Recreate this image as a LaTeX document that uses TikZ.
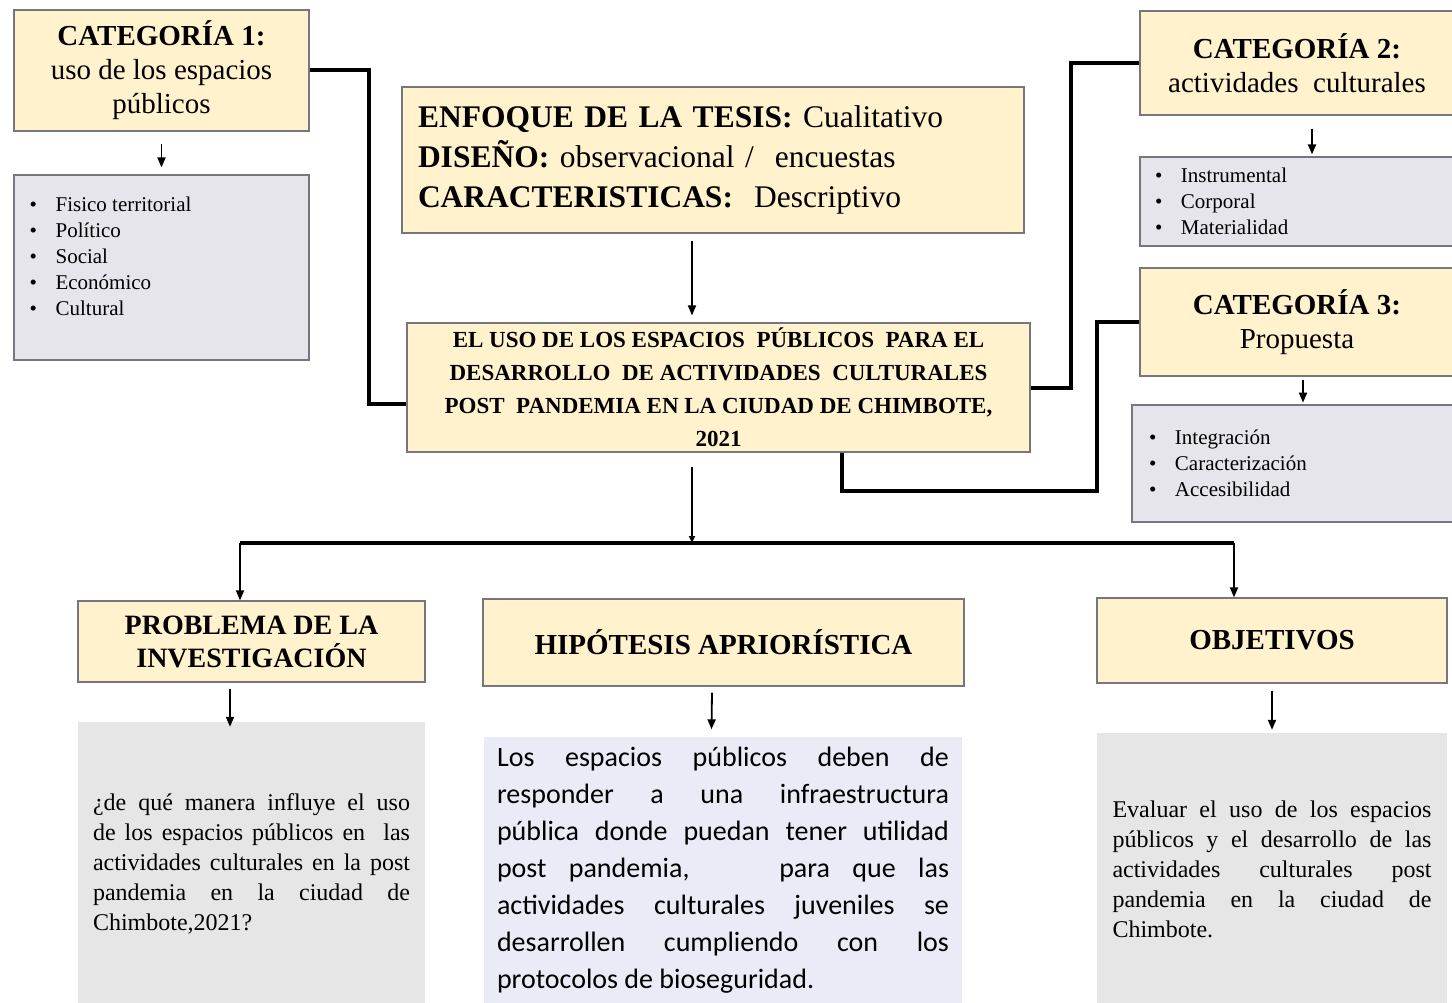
\documentclass[tikz,border=0pt]{standalone}
\usepackage{fontspec}
\setmainfont{Liberation Serif}
\newfontfamily\bodysans{Carlito}
\usepackage{tikz}
\usetikzlibrary{arrows.meta, positioning, calc}
\usepackage{xcolor}

\definecolor{cream}{RGB}{255,242,204}
\definecolor{listgray}{RGB}{229,229,235}
\definecolor{panelgray}{RGB}{230,230,230}
\definecolor{panelblue}{RGB}{233,236,246}
\definecolor{edgegray}{RGB}{118,118,126}
\newcommand{\bul}{\makebox[26pt][l]{\textbullet}}

\begin{document}
\begin{tikzpicture}[x=1pt, y=-1pt,
    titlebox/.style={draw=edgegray, line width=1.2pt, fill=cream, align=center, inner sep=0pt},
    listbox/.style={draw=edgegray, line width=1.2pt, fill=listgray, inner sep=0pt, align=left, font=\fontsize{21}{26}\selectfont},
    panel/.style={inner sep=0pt, align=justify},
    link/.style={line width=4pt},
    arr/.style={line width=1.8pt, -{Triangle[length=10pt,width=8pt]}}]
    \useasboundingbox (0,0) rectangle (1452,1003);

    % Category 1
    \node[titlebox, minimum width=295pt, minimum height=121pt, font=\fontsize{29}{34}\selectfont] (cat1) at (161.5,70.5)
        {\textbf{CATEGORÍA 1:}\\uso de los espacios\\públicos};
    \node[listbox, minimum width=295pt, minimum height=185pt] (cat1list) at (161.5,267.5) {};
    \node[anchor=west, inner sep=0pt, align=left, font=\fontsize{21}{26}\selectfont] (cat1items) at ($(cat1list.west)+(16,-11.5)$)
        {\bul Fisico territorial\\\bul Político\\\bul Social\\\bul Económico\\\bul Cultural};

    % Thesis approach
    \node[titlebox, align=left, minimum height=146pt, text width=590pt, inner xsep=16pt, font=\fontsize{31.5}{40}\selectfont] (enfoque) at (713,160)
        {\textbf{ENFOQUE DE LA TESIS:} Cualitativo\\\textbf{DISEÑO:} observacional /\ \ encuestas\\\textbf{CARACTERISTICAS:}\ \ Descriptivo};

    % Main title
    \node[titlebox, minimum width=623pt, minimum height=129pt, font=\bfseries\fontsize{23}{33}\selectfont] (main) at (718.5,387.5)
        {EL USO DE LOS ESPACIOS\ \ PÚBLICOS\ \ PARA EL\\DESARROLLO\ \ DE ACTIVIDADES\ \ CULTURALES\\POST\ \ PANDEMIA EN LA CIUDAD DE CHIMBOTE,\\2021};

    % Category 2
    \node[titlebox, minimum width=314pt, minimum height=104pt, font=\fontsize{29}{34}\selectfont] (cat2) at (1297,63)
        {\textbf{CATEGORÍA 2:}\\actividades\ \ culturales};
    \node[listbox, minimum height=89pt, text width=284pt, inner xsep=15pt] (cat2list) at (1297,201.5)
        {\bul Instrumental\\\bul Corporal\\\bul Materialidad};

    % Category 3
    \node[titlebox, minimum width=314pt, minimum height=108pt, font=\fontsize{29}{34}\selectfont] (cat3) at (1297,322)
        {\textbf{CATEGORÍA 3:}\\Propuesta};
    \node[listbox, minimum height=117pt, text width=288pt, inner xsep=17pt] (cat3list) at (1293,463.5)
        {\bul Integración\\\bul Caracterización\\\bul Accesibilidad};

    % Lower row
    \node[titlebox, minimum width=347pt, minimum height=81pt, font=\bfseries\fontsize{28}{33}\selectfont] (prob) at (251.5,641.5)
        {PROBLEMA DE LA\\INVESTIGACIÓN};
    \node[titlebox, minimum width=481pt, minimum height=87pt, font=\bfseries\fontsize{29}{33}\selectfont] (hip) at (723.5,642.5)
        {HIPÓTESIS APRIORÍSTICA};
    \node[titlebox, minimum width=350pt, minimum height=85pt, font=\bfseries\fontsize{29}{33}\selectfont] (obj) at (1272,640.5)
        {OBJETIVOS};

    \node[panel, fill=panelgray, minimum height=283pt, text width=317pt, inner xsep=15pt, font=\fontsize{24}{30}\selectfont] (probtext) at (251.5,863.5)
        {¿de qué manera influye el uso\linebreak de los espacios públicos en\ \ las\linebreak actividades culturales en la post\linebreak pandemia en la ciudad de\linebreak Chimbote,2021?};
    \node[panel, fill=panelblue, minimum height=268pt, text width=452pt, inner xsep=13pt, font=\bodysans\fontsize{28}{37}\selectfont] (hiptext) at (723,870.5)
        {Los espacios públicos deben de\linebreak responder a una infraestructura\linebreak pública donde puedan tener utilidad\linebreak post pandemia,\ \ \ \ para que las\linebreak actividades culturales juveniles se\linebreak desarrollen cumpliendo con los\linebreak protocolos de bioseguridad.};
    \node[panel, fill=panelgray, minimum height=272pt, text width=319pt, inner xsep=15.5pt, font=\fontsize{24}{30}\selectfont] (objtext) at (1272,869)
        {Evaluar el uso de los espacios\linebreak públicos y el desarrollo de las\linebreak actividades culturales post\linebreak pandemia en la ciudad de\linebreak Chimbote.};

    % Thick links from the categories
    \draw[link] (cat1.east) -- ++(59,0) |- ($(main.west)+(0,16.5)$);
    \draw[link] (main.east) -- ++(40,0) |- (cat2.west);
    \draw[link] ($(main.south)+(123.5,0)$) -- ++(0,38) -- ++(255,0) |- (cat3.west);

    % Arrows
    \coordinate (split) at (692,543);
    \coordinate (lft) at (240,543);
    \coordinate (rgt) at (1234,543);
    \draw[arr] ($(cat1.south)+(0,12)$) -- ($(cat1list.north)+(0,-7)$);
    \draw[arr] ($(cat2.south)+(15,13)$) -- ($(cat2list.north)+(15,-2)$);
    \draw[arr] ($(cat3.south)+(6,3)$) -- ++(0,23);
    \draw[arr] ($(enfoque.south -| split)+(0,7)$) -- ($(main.north -| split)+(0,-7)$);
    \draw[line width=1.8pt, -{Triangle[length=7pt,width=6pt]}] ($(main.south -| split)+(0,14)$) -- (split);
    \draw[link, line width=3.5pt] (lft) -- (rgt);
    \draw[arr] (lft) -- (lft |- prob.north);
    \draw[arr] (rgt) -- (rgt |- obj.north);
    \draw[arr] ($(prob.south)+(-21.5,6)$) -- ($(probtext.north)+(-21.5,5)$);
    \draw[arr] ($(hip.south)+(-11.5,6)$) -- ($(hiptext.north)+(-11.5,-7)$);
    \draw[arr] ($(obj.south)+(0,7)$) -- ($(objtext.north)+(0,-3)$);
\end{tikzpicture}
\end{document}
